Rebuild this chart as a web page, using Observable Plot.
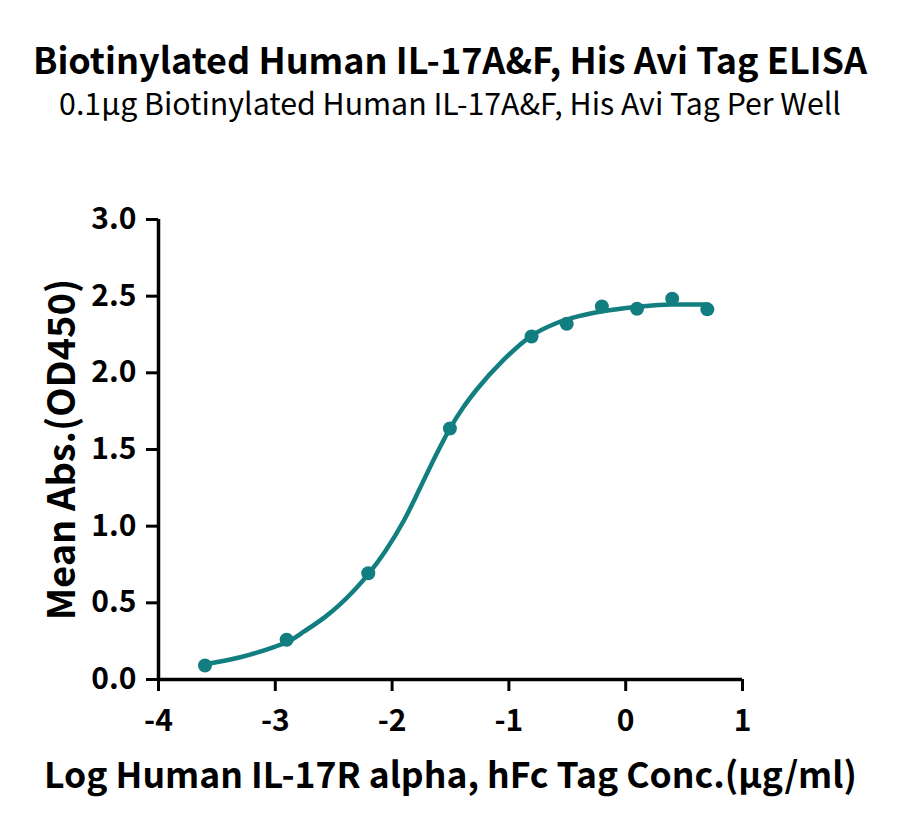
<!DOCTYPE html>
<html>
<head>
<meta charset="utf-8">
<script src="https://cdn.jsdelivr.net/npm/d3@7"></script>
<script src="https://cdn.jsdelivr.net/npm/@observablehq/plot@0.6"></script>
<style>
  html, body { margin: 0; padding: 0; background: #fff; }
  #wrap { width: 900px; position: relative; font-family: 'Noto Sans CJK SC', 'Noto Sans', sans-serif; }
  #head { height: 130px; position: relative; }
  #title { position: absolute; left: 0; width: 900px; top: 40px; text-align: center; font-size: 36px; font-weight: 700; line-height: 36px; color: #000; }
  #subtitle { position: absolute; left: 0; width: 900px; top: 87px; text-align: center; font-size: 30.3px; font-weight: 400; line-height: 30px; color: #000; }
  svg { display: block; }
</style>
</head>
<body>
<div id="wrap">
  <div id="head">
    <div id="title">Biotinylated Human IL-17A&amp;F, His Avi Tag ELISA</div>
    <div id="subtitle">0.1μg Biotinylated Human IL-17A&amp;F, His Avi Tag Per Well</div>
  </div>
  <div id="chart"></div>
</div>
<script>
// Measured points (log concentration, mean absorbance)
const logConc = [-3.602, -2.903, -2.204, -1.505, -0.806, -0.505, -0.204, 0.097, 0.398, 0.699];
const meanAbs = [0.091, 0.259, 0.693, 1.637, 2.237, 2.320, 2.433, 2.418, 2.483, 2.414];

// Fitted curve
const curveX = [-3.60, -3.30, -3.00, -2.90, -2.75, -2.57, -2.46, -2.32, -2.20, -2.06, -1.90, -1.76, -1.64, -1.51, -1.39, -1.27, -1.05, -0.81, -0.59, -0.40, -0.20, 0.09, 0.39, 0.70];
const curveY = [0.100, 0.145, 0.215, 0.243, 0.315, 0.410, 0.480, 0.585, 0.690, 0.835, 1.035, 1.250, 1.440, 1.630, 1.775, 1.896, 2.081, 2.240, 2.325, 2.370, 2.402, 2.430, 2.446, 2.446];

// Axis ticks
const xTicks = [-4, -3, -2, -1, 0, 1];
const yTicks = [0, 0.5, 1.0, 1.5, 2.0, 2.5, 3.0];

const xTitle = "Log Human IL-17R alpha, hFc Tag Conc.(μg/ml)";
const yTitle = "Mean Abs.(OD450)";

const color = "#127e80";

const points = logConc.map((x, i) => ({x, y: meanAbs[i]}));
const curve = curveX.map((x, i) => ({x, y: curveY[i]}));

const plot = Plot.plot({
  width: 900,
  height: 701,
  marginTop: 89,
  marginBottom: 152,
  marginLeft: 158,
  marginRight: 158,
  style: {fontFamily: "'Noto Sans CJK SC', 'Noto Sans', sans-serif", background: "#fff", overflow: "visible"},
  x: {domain: [-4, 1]},
  y: {domain: [0, 3]},
  marks: [
    Plot.axisX({ticks: xTicks, tickSize: 12, tickPadding: 18, strokeWidth: 3, fontSize: 30, fontWeight: 700, fill: "#000", stroke: "#000", tickFormat: d => String(d), label: null}),
    Plot.axisY({ticks: yTicks, tickSize: 12, tickPadding: 10, strokeWidth: 3, fontSize: 30, fontWeight: 700, fill: "#000", stroke: "#000", tickFormat: d => d.toFixed(1), label: null}),
    Plot.ruleY([0], {x1: -4, x2: 1, stroke: "#000", strokeWidth: 3.5}),
    Plot.ruleX([-4], {y1: 0, y2: 3, stroke: "#000", strokeWidth: 3.5}),
    Plot.line(curve, {x: "x", y: "y", stroke: color, strokeWidth: 4.5, curve: "monotone-x"}),
    Plot.dot(points, {x: "x", y: "y", fill: color, r: 7}),
    Plot.text([xTitle], {frameAnchor: "bottom", dy: 97, lineAnchor: "middle", textAnchor: "middle", fontSize: 35.5, fontWeight: 700, fill: "#000"}),
    Plot.text([yTitle], {frameAnchor: "left", rotate: -90, dx: -96, lineAnchor: "middle", textAnchor: "middle", fontSize: 38, fontWeight: 700, fill: "#000"})
  ]
});
document.getElementById("chart").appendChild(plot);
</script>
</body>
</html>
